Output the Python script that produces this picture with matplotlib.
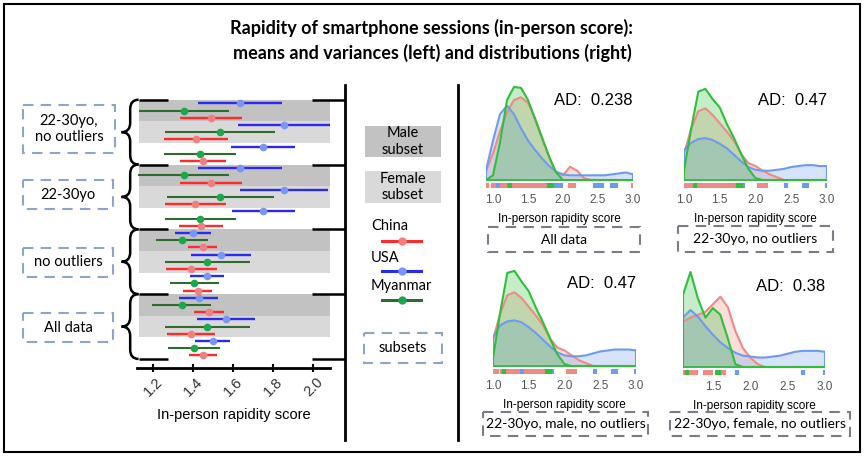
import matplotlib.pyplot as plt
from matplotlib.patches import Rectangle, PathPatch
from matplotlib.path import Path

W, H = 865, 457

# ---- left panel: mean +/- spread per country ----
# order: groups top->bottom, each with (male, female, all) subsets
group_labels = ['22-30yo,\nno outliers', '22-30yo', 'no outliers', 'All data']
ticks_left = [1.2, 1.4, 1.6, 1.8, 2.0]

china_mean = [1.49, 1.415, 1.45, 1.49, 1.41, 1.44, 1.447, 1.39, 1.423, 1.48, 1.388, 1.447]
china_err = [0.155, 0.16, 0.115, 0.155, 0.152, 0.11, 0.073, 0.127, 0.073, 0.075, 0.12, 0.07]
usa_mean = [1.635, 1.855, 1.75, 1.635, 1.855, 1.75, 1.398, 1.54, 1.468, 1.427, 1.563, 1.497]
usa_err = [0.21, 0.23, 0.16, 0.21, 0.22, 0.156, 0.09, 0.15, 0.086, 0.098, 0.144, 0.086]
myanmar_mean = [1.355, 1.535, 1.435, 1.352, 1.535, 1.435, 1.343, 1.47, 1.405, 1.343, 1.47, 1.405]
myanmar_err = [0.225, 0.275, 0.18, 0.225, 0.267, 0.177, 0.13, 0.212, 0.122, 0.147, 0.212, 0.13]

# ---- right panels: density curves and rug samples ----
panel_titles = ['All data', '22-30yo, no outliers', '22-30yo, male, no outliers',
                '22-30yo, female, no outliers']
ad_values = ['0.238', '0.47', '0.47', '0.38']

grid_a = [0.9, 1.0, 1.1, 1.2, 1.3, 1.4, 1.5, 1.6, 1.7, 1.8, 1.9, 2.0, 2.1, 2.2, 2.3,
          2.4, 2.5, 2.6, 2.7, 2.8, 2.9, 3.0]
grid_b = [1.0, 1.1, 1.2, 1.3, 1.4, 1.5, 1.6, 1.7, 1.8, 1.9, 2.0, 2.1, 2.2, 2.3,
          2.4, 2.5, 2.6, 2.7, 2.8, 2.9, 3.0]
grid_d = [1.1, 1.2, 1.3, 1.4, 1.5, 1.6, 1.7, 1.8, 1.9, 2.0, 2.1, 2.2, 2.3,
          2.4, 2.5, 2.6, 2.7, 2.8, 2.9, 3.0]

dens_a_china = [0.10, 0.28, 0.52, 0.72, 0.85, 0.88, 0.82, 0.66, 0.45, 0.25, 0.08, 0.05,
                0.14, 0.10, 0.02, 0.0, 0.0, 0.0, 0.0, 0.0, 0.0, 0.0]
dens_a_usa = [0.10, 0.42, 0.70, 0.79, 0.70, 0.55, 0.42, 0.32, 0.23, 0.15, 0.09, 0.06,
              0.05, 0.05, 0.05, 0.05, 0.05, 0.05, 0.06, 0.07, 0.08, 0.06]
dens_a_myanmar = [0.0, 0.05, 0.40, 0.85, 0.99, 0.98, 0.85, 0.65, 0.45, 0.25, 0.08, 0.0,
                  0.0, 0.0, 0.0, 0.0, 0.0, 0.0, 0.0, 0.0, 0.0, 0.0]

dens_b_china = [0.28, 0.55, 0.74, 0.77, 0.70, 0.61, 0.52, 0.42, 0.28, 0.18, 0.15, 0.10,
                0.06, 0.03, 0.0, 0.0, 0.0, 0.0, 0.0, 0.0, 0.0]
dens_b_usa = [0.32, 0.40, 0.44, 0.45, 0.43, 0.39, 0.34, 0.27, 0.20, 0.14, 0.11, 0.10,
              0.10, 0.11, 0.12, 0.14, 0.15, 0.16, 0.16, 0.15, 0.15]
dens_b_myanmar = [0.10, 0.55, 0.95, 0.98, 0.87, 0.78, 0.60, 0.45, 0.28, 0.12, 0.02, 0.0,
                  0.0, 0.0, 0.0, 0.0, 0.0, 0.0, 0.0, 0.0, 0.0]

dens_c_china = [0.27, 0.54, 0.73, 0.76, 0.70, 0.61, 0.52, 0.42, 0.28, 0.19, 0.16, 0.11,
                0.06, 0.03, 0.0, 0.0, 0.0, 0.0, 0.0, 0.0, 0.0]
dens_c_usa = [0.30, 0.42, 0.46, 0.47, 0.45, 0.40, 0.34, 0.27, 0.20, 0.14, 0.11, 0.10,
              0.10, 0.11, 0.13, 0.15, 0.16, 0.17, 0.17, 0.17, 0.16]
dens_c_myanmar = [0.08, 0.55, 0.96, 0.98, 0.87, 0.77, 0.60, 0.45, 0.28, 0.12, 0.02, 0.0,
                  0.0, 0.0, 0.0, 0.0, 0.0, 0.0, 0.0, 0.0, 0.0]

dens_d_china = [0.48, 0.52, 0.55, 0.58, 0.66, 0.74, 0.63, 0.38, 0.20, 0.10, 0.03, 0.0,
                0.0, 0.0, 0.0, 0.0, 0.0, 0.0, 0.0, 0.0]
dens_d_usa = [0.52, 0.60, 0.53, 0.43, 0.34, 0.26, 0.20, 0.15, 0.12, 0.11, 0.10, 0.10,
              0.11, 0.12, 0.14, 0.16, 0.17, 0.17, 0.17, 0.16]
dens_d_myanmar = [0.76, 1.00, 0.72, 0.52, 0.62, 0.55, 0.30, 0.03, 0.0, 0.0, 0.0, 0.0,
                  0.0, 0.0, 0.0, 0.0, 0.0, 0.0, 0.0, 0.0]

rug_a_china = [0.92, 1.0, 1.03, 1.06, 1.1, 1.13, 1.16, 1.2, 1.25, 1.28, 1.31, 1.34, 1.37,
               1.4, 1.43, 1.46, 1.5, 1.53, 1.56, 1.6, 1.63, 1.67, 1.7, 1.73, 1.78, 1.82,
               2.1, 2.15, 3.0]
rug_a_usa = [1.07, 1.23, 1.9, 1.93, 1.97, 2.45, 2.5, 2.55, 2.7, 2.75]
rug_a_myanmar = [1.24, 1.8, 1.84]
rug_b_china = [1.0, 1.04, 1.1, 1.13, 1.2, 1.25, 1.3, 1.35, 1.4, 1.45, 1.5, 1.55, 1.6,
               1.65, 1.7, 2.05, 2.1, 2.15]
rug_b_usa = [1.83, 2.42, 2.68, 2.72, 3.0]
rug_b_myanmar = [1.15, 1.76, 1.8]
rug_c_china = [1.0, 1.05, 1.12, 1.15, 1.2, 1.25, 1.3, 1.35, 1.4, 1.45, 1.5, 1.55, 1.6,
               1.65, 1.7, 2.05, 2.1, 2.15]
rug_c_usa = [1.4, 1.83, 2.42, 2.68, 2.72, 3.0]
rug_c_myanmar = [1.15, 1.76, 1.8]
rug_d_china = [1.1, 1.14, 1.19, 1.23, 1.28, 1.4, 1.44, 1.48, 1.61, 1.65]
rug_d_usa = [1.82, 2.71, 3.0]
rug_d_myanmar = [1.15, 1.55, 1.58]

china_line, china_dot = '#ff2b2b', '#f08080'
usa_line, usa_dot = '#2b2bf0', '#7b96f0'
myan_line, myan_dot = '#2f6b2f', '#1aa84a'
kde_red, kde_blue, kde_green = '#ef8a84', '#6d9bf0', '#2fbf3a'
male_grey, female_grey = '#c2c2c2', '#d9d9d9'

fig = plt.figure(figsize=(W / 100, H / 100), dpi=100)
fig.patch.set_facecolor('white')

# ---------------- left: error bars ----------------
ax = fig.add_axes([137 / W, 1 - 368.3 / H, 193.5 / W, 270 / H])
ax.set_xlim(1.12, 2.085)
ax.set_ylim(36.8, -0.7)

for g in range(len(group_labels)):
    top = 9 * g - 0.5
    ax.fill_between([1.13, 2.085], top, top + 3, color=male_grey, lw=0, zorder=0)
    ax.fill_between([1.13, 2.085], top + 3, top + 6, color=female_grey, lw=0, zorder=0)

series = [(usa_mean, usa_err, usa_line, usa_dot, 0, 1.7),
          (myanmar_mean, myanmar_err, myan_line, myan_dot, 1, 1.5),
          (china_mean, china_err, china_line, china_dot, 2, 1.7)]
for mean, err, lc, dc, off, lw in series:
    ys = [9 * (i // 3) + 3 * (i % 3) + off for i in range(len(mean))]
    ax.errorbar(mean, ys, xerr=err, fmt='none', ecolor=lc, elinewidth=lw, capsize=0, zorder=2)
    ax.plot(mean, ys, 'o', color=dc, ms=5.5, mec='none', zorder=3)

# group separators and braces
for g in range(len(group_labels) + 1):
    y = 9 * g - 0.5
    ax.plot([1.13, 1.275], [y, y], color='black', lw=1.8, clip_on=False, solid_capstyle='butt')
    ax.plot([1.993, 2.157], [y, y], color='black', lw=1.8, clip_on=False, solid_capstyle='butt')

x_end, x_mid, x_tip, r = 1.128, 1.086, 1.043, 1.3
for g in range(len(group_labels)):
    y0, y1 = 9 * g - 0.5, 9 * g + 8.5
    ym = (y0 + y1) / 2
    verts = [(x_end, y0), (x_mid, y0), (x_mid, y0 + r), (x_mid, ym - r),
             (x_mid, ym), (x_tip, ym), (x_mid, ym), (x_mid, ym + r),
             (x_mid, y1 - r), (x_mid, y1), (x_end, y1)]
    codes = [Path.MOVETO, Path.CURVE3, Path.CURVE3, Path.LINETO,
             Path.CURVE3, Path.CURVE3, Path.CURVE3, Path.CURVE3,
             Path.LINETO, Path.CURVE3, Path.CURVE3]
    ax.add_patch(PathPatch(Path(verts, codes), fill=False, lw=1.8, ec='black', clip_on=False))

for s in ['left', 'right', 'top']:
    ax.spines[s].set_visible(False)
ax.spines['bottom'].set_linewidth(2)
ax.set_yticks([])
ax.set_xticks(ticks_left)
ax.set_xticklabels([f'{t:.1f}' for t in ticks_left])
ax.tick_params(axis='x', direction='inout', length=6, width=1.5, labelsize=10.5,
               labelrotation=45, labelcolor='#333333', pad=2)
for lab in ax.get_xticklabels():
    lab.set_family('Liberation Sans')
ax.set_xlabel('In-person rapidity score', fontsize=10.5, family='Liberation Sans', labelpad=6)

# ---------------- right: density panels ----------------
panels = [
    (grid_a, dens_a_china, dens_a_usa, dens_a_myanmar, rug_a_china, rug_a_usa, rug_a_myanmar,
     486, 633, 180, 94, (0.9, 3.0), [1.0, 1.5, 2.0, 2.5, 3.0]),
    (grid_b, dens_b_china, dens_b_usa, dens_b_myanmar, rug_b_china, rug_b_usa, rug_b_myanmar,
     684, 827, 180, 93, (1.0, 3.0), [1.0, 1.5, 2.0, 2.5, 3.0]),
    (grid_b, dens_c_china, dens_c_usa, dens_c_myanmar, rug_c_china, rug_c_usa, rug_c_myanmar,
     493, 636, 366, 97, (1.0, 3.0), [1.0, 1.5, 2.0, 2.5, 3.0]),
    (grid_d, dens_d_china, dens_d_usa, dens_d_myanmar, rug_d_china, rug_d_usa, rug_d_myanmar,
     683, 825, 367, 95, (1.1, 3.0), [1.5, 2.0, 2.5, 3.0]),
]
ylo, yhi = -0.12, 1.06
for k, (gx, dc, du, dm, rc, ru, rm, left, right, base, unit, xl, xt) in enumerate(panels):
    bottom = base - ylo * unit
    top = base - yhi * unit
    kax = fig.add_axes([left / W, 1 - bottom / H, (right - left) / W, (bottom - top) / H])
    kax.set_xlim(*xl)
    kax.set_ylim(ylo, yhi)
    for dens, col in [(dc, kde_red), (du, kde_blue), (dm, kde_green)]:
        kax.fill_between(gx, 0, dens, facecolor=col, alpha=0.28, lw=0)
        kax.plot(gx, dens, color=col, lw=1.5)
        kax.plot([gx[0], gx[0]], [0, dens[0]], color=col, lw=1.5)
        kax.plot([gx[-1], gx[-1]], [0, dens[-1]], color=col, lw=1.5)
        kax.plot([gx[0], gx[-1]], [0, 0], color=col, lw=1.2)
    for rug, col in [(rc, kde_red), (ru, kde_blue), (rm, kde_green)]:
        kax.vlines(rug, -0.085, -0.035, color=col, lw=3)
    for s in kax.spines.values():
        s.set_visible(False)
    kax.set_yticks([])
    kax.set_xticks(xt)
    kax.set_xticklabels([f'{t:.1f}' for t in xt])
    kax.tick_params(axis='x', length=0, pad=2, labelsize=8.5, labelcolor='#555555')
    for lab in kax.get_xticklabels():
        lab.set_family('Liberation Sans')
    kax.set_xlabel('In-person rapidity score', fontsize=8.5, family='Liberation Sans', labelpad=5)
    kax.text(xl[1], 0.85, f'AD:  {ad_values[k]}', ha='right', va='center', fontsize=12,
             family='Liberation Sans')

# ---------------- overlay: frames, labels, legend ----------------
ov = fig.add_axes([0, 0, 1, 1])
ov.set_xlim(0, W)
ov.set_ylim(H, 0)
ov.axis('off')
ov.patch.set_visible(False)

ov.add_patch(Rectangle((4, 4), 856, 448, fill=False, ec='black', lw=1.5))
ov.plot([345, 345], [85, 440], color='black', lw=2)
ov.plot([458, 458], [85, 440], color='black', lw=2)

fig.text(432 / W, 1 - 40 / H,
         'Rapidity of smartphone sessions (in-person score):\n'
         'means and variances (left) and distributions (right)',
         ha='center', va='center', fontsize=13, fontweight='bold', family='Lato',
         linespacing=1.45)

dash = (0, (5, 3.5))
label_boxes = [(23, 105, 92, 48), (23, 180, 90, 29), (23, 248, 90, 29), (23, 313, 90, 29)]
for (x0, y0, w, h), lab in zip(label_boxes, group_labels):
    ov.add_patch(Rectangle((x0, y0), w, h, fill=False, ec='#8ea4cc', lw=1.5, ls=dash))
    ov.text(x0 + w / 2, y0 + h / 2, lab, ha='center', va='center', fontsize=10.5,
            family='Lato', linespacing=1.25)

# subset legend
ov.add_patch(Rectangle((365, 126), 76, 31, fc=male_grey, ec='none'))
ov.text(403, 141.5, 'Male\nsubset', ha='center', va='center', fontsize=10.5, family='Lato',
        linespacing=1.2)
ov.add_patch(Rectangle((365, 171), 76, 32, fc=female_grey, ec='none'))
ov.text(403, 187, 'Female\nsubset', ha='center', va='center', fontsize=10.5, family='Lato',
        linespacing=1.2)

for name, lc, dc, ty, ly in [('China', china_line, china_dot, 226, 241),
                             ('USA', usa_line, usa_dot, 258, 271),
                             ('Myanmar', myan_line, myan_dot, 286, 300)]:
    ov.text(371, ty, name, ha='left', va='center', fontsize=10.5, family='Lato')
    ov.plot([382, 421], [ly, ly], color=lc, lw=2.2)
    ov.plot([402], [ly], 'o', color=dc, ms=6, mec='none')

ov.add_patch(Rectangle((364, 333), 78, 30, fill=False, ec='#8ea4cc', lw=1.5, ls=dash))
ov.text(403, 348, 'subsets', ha='center', va='center', fontsize=10.5, family='Lato')

title_boxes = [(488, 227, 152, 25), (678, 226, 155, 26), (483, 412, 165, 24), (670, 412, 180, 24)]
for (x0, y0, w, h), lab in zip(title_boxes, panel_titles):
    ov.add_patch(Rectangle((x0, y0), w, h, fill=False, ec='#7c7c88', lw=1.5, ls=dash))
    ov.text(x0 + w / 2, y0 + h / 2, lab, ha='center', va='center', fontsize=10, family='Lato')

fig.savefig('out.png', dpi=100)
